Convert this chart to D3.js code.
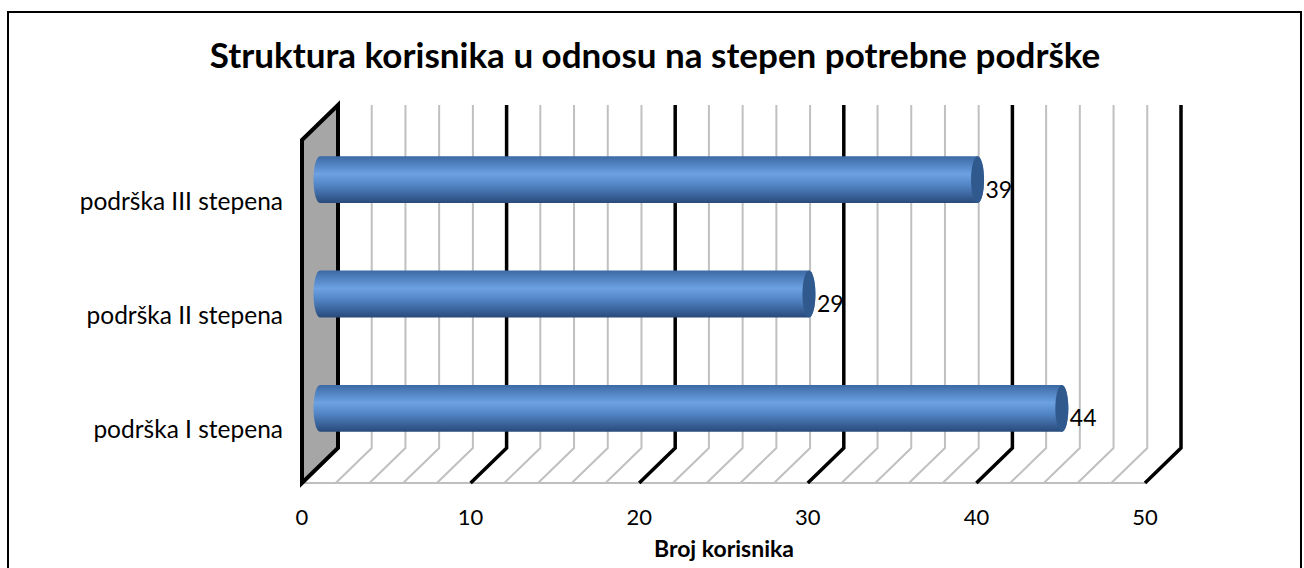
<!DOCTYPE html>
<html>
<head>
<meta charset="utf-8">
<script src="https://cdn.jsdelivr.net/npm/d3@7"></script>
<style>
  body { margin: 0; background: #fff; }
  text { font-family: Lato, "Open Sans", sans-serif; fill: #000; }
</style>
</head>
<body>
<script>
// chart data
var categories = ["podrška I stepena", "podrška II stepena", "podrška III stepena"];
var values = [44, 29, 39];
var tickValues = [0, 10, 20, 30, 40, 50];
var chartTitle = "Struktura korisnika u odnosu na stepen potrebne podrške";
var axisTitle = "Broj korisnika";

var w = 1304, h = 568;

// 3d box: front plane and depth offset
var frontTop = 140, frontBottom = 483;
var depthX = 36, depthY = -35;

var x = d3.scaleLinear().domain([0, 50]).range([302, 1145]);
var y = d3.scaleBand()
  .domain(categories.slice().reverse())
  .range([frontTop + depthY / 2, frontBottom + depthY / 2])
  .paddingInner(0.59)
  .paddingOuter(0.295);

var svg = d3.select("body").append("svg")
  .attr("width", w)
  .attr("height", h);

// outer border
svg.append("rect")
  .attr("x", 8).attr("y", 12)
  .attr("width", 1293).attr("height", 580)
  .attr("fill", "none")
  .attr("stroke", "#000")
  .attr("stroke-width", 2);

// title
svg.append("text")
  .attr("x", 655).attr("y", 68)
  .attr("text-anchor", "middle")
  .attr("font-size", 35)
  .attr("font-weight", "bold")
  .text(chartTitle);

// floor front edge
svg.append("line")
  .attr("x1", x(0)).attr("x2", x(50))
  .attr("y1", frontBottom).attr("y2", frontBottom)
  .attr("stroke", "#bfbfbf").attr("stroke-width", 2);

// gridlines on back wall + floor, minor every 2, major every 10
var gridVals = d3.range(2, 51, 2);
var minor = gridVals.filter(function(d) { return d % 10 != 0; });
var major = gridVals.filter(function(d) { return d % 10 == 0; });

function gridPath(d) {
  var bx = x(d) + depthX;
  return "M" + bx + "," + (frontTop + depthY) +
    "L" + bx + "," + (frontBottom + depthY) +
    "L" + x(d) + "," + frontBottom;
}

svg.selectAll(".minor").data(minor).enter().append("path")
  .attr("class", "minor")
  .attr("d", gridPath)
  .attr("fill", "none")
  .attr("stroke", "#c0c0c0")
  .attr("stroke-width", 2);

svg.selectAll(".major").data(major).enter().append("path")
  .attr("class", "major")
  .attr("d", gridPath)
  .attr("fill", "none")
  .attr("stroke", "#000")
  .attr("stroke-width", 3.5)
  .attr("stroke-linejoin", "miter");

// left wall
var x0 = x(0);
svg.append("path")
  .attr("d", "M" + x0 + "," + frontTop +
    "L" + (x0 + depthX) + "," + (frontTop + depthY) +
    "L" + (x0 + depthX) + "," + (frontBottom + depthY) +
    "L" + x0 + "," + frontBottom + "Z")
  .attr("fill", "#a6a6a6")
  .attr("stroke", "#000")
  .attr("stroke-width", 4)
  .attr("stroke-linejoin", "miter");

// cylinder gradient
var defs = svg.append("defs");
var grad = defs.append("linearGradient")
  .attr("id", "cyl")
  .attr("x1", 0).attr("y1", 0).attr("x2", 0).attr("y2", 1);
grad.append("stop").attr("offset", "0%").attr("stop-color", "#3c69a5");
grad.append("stop").attr("offset", "38%").attr("stop-color", "#6ca1e2");
grad.append("stop").attr("offset", "60%").attr("stop-color", "#5487c8");
grad.append("stop").attr("offset", "100%").attr("stop-color", "#284a7a");

var rx = 6.5;
var mid = depthX / 2;

var bars = svg.selectAll(".bar").data(values).enter().append("g")
  .attr("class", "bar");

bars.append("path")
  .attr("d", function(d, i) {
    var xa = x(0) + mid, xb = x(d) + mid;
    var yt = y(categories[i]), yb = yt + y.bandwidth();
    var ry = y.bandwidth() / 2;
    return "M" + xa + "," + yt + "L" + xb + "," + yt +
      "A" + rx + "," + ry + " 0 0 1 " + xb + "," + yb +
      "L" + xa + "," + yb +
      "A" + rx + "," + ry + " 0 0 1 " + xa + "," + yt + "Z";
  })
  .attr("fill", "url(#cyl)");

bars.append("ellipse")
  .attr("cx", function(d) { return x(d) + mid; })
  .attr("cy", function(d, i) { return y(categories[i]) + y.bandwidth() / 2; })
  .attr("rx", rx)
  .attr("ry", y.bandwidth() / 2)
  .attr("fill", "#30598e");

// value labels
bars.append("text")
  .attr("x", function(d) { return x(d) + mid + 8; })
  .attr("y", function(d, i) { return y(categories[i]) + y.bandwidth() / 2 + 18; })
  .attr("font-size", 23)
  .text(function(d) { return d; });

// category labels
svg.selectAll(".cat").data(categories).enter().append("text")
  .attr("class", "cat")
  .attr("x", 283)
  .attr("y", function(d) { return y(d) + y.bandwidth() / 2 + 30; })
  .attr("text-anchor", "end")
  .attr("font-size", 24.5)
  .text(function(d) { return d; });

// x tick labels
svg.selectAll(".tick").data(tickValues).enter().append("text")
  .attr("class", "tick")
  .attr("x", function(d) { return x(d); })
  .attr("y", 525)
  .attr("text-anchor", "middle")
  .attr("font-size", 22)
  .text(function(d) { return d; });

// axis title
svg.append("text")
  .attr("x", 724).attr("y", 557)
  .attr("text-anchor", "middle")
  .attr("font-size", 23)
  .attr("font-weight", "bold")
  .text(axisTitle);
</script>
</body>
</html>
